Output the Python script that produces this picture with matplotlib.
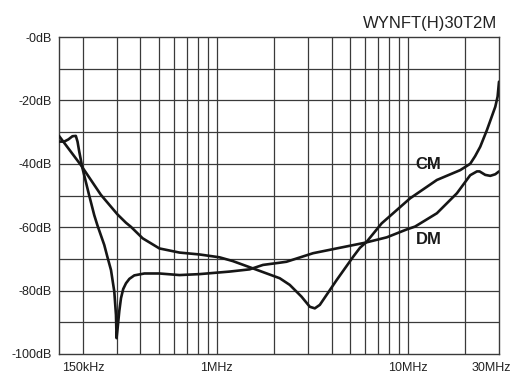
import matplotlib
matplotlib.use("Agg")
import matplotlib.pyplot as plt
import matplotlib.transforms as mtrans
import numpy as np

plt.rcParams['font.family'] = ['Liberation Sans', 'DejaVu Sans']

# ---- data (frequency in MHz, attenuation in dB) ----
dm_freq = [0.15, 0.1596, 0.168, 0.1764, 0.1837, 0.1875, 0.1912, 0.199, 0.2158,
           0.2293, 0.2385, 0.2587, 0.269, 0.2805, 0.2919, 0.2979, 0.300, 0.3037,
           0.3100, 0.3164, 0.325, 0.336, 0.350, 0.3715, 0.4193, 0.5025, 0.6397,
           0.8145, 1.17, 1.489, 1.749, 2.14, 2.321, 3.199, 4.244, 5.972, 7.761,
           9.88, 10.92, 14.2, 18.07, 21.21, 23.0, 23.74, 25.43, 27.01, 28.69, 30.0]
dm_db = [-33.0, -33.0, -32.3, -31.3, -31.2, -33.0, -36.0, -41.4, -50.0,
         -56.2, -59.5, -65.6, -69.5, -73.5, -80.3, -87.7, -95.0, -92.0,
         -86.5, -82.4, -79.5, -77.7, -76.3, -75.2, -74.6, -74.6, -75.1,
         -74.8, -74.0, -73.3, -71.9, -71.2, -70.9, -68.2, -66.7, -64.9, -63.2,
         -60.7, -59.8, -55.6, -49.3, -43.6, -42.4, -42.4, -43.5, -43.8, -43.3, -42.4]

cm_freq = [0.15, 0.1952, 0.2485, 0.3037, 0.336, 0.357, 0.4107, 0.5025, 0.6397,
           0.8145, 1.037, 1.218, 1.55, 2.14, 2.415, 2.781, 3.074, 3.265, 3.468,
           4.244, 5.185, 5.622, 6.095, 7.3, 10.28, 14.2, 18.8, 21.21, 22.5,
           23.94, 25.96, 28.69, 29.5, 30.0]
cm_db = [-31.2, -40.4, -49.8, -56.0, -58.6, -59.9, -63.5, -66.7, -68.0,
         -68.6, -69.5, -70.7, -73.0, -76.1, -78.2, -81.9, -85.1, -85.6, -84.5,
         -76.7, -69.3, -66.5, -64.6, -58.8, -50.9, -45.1, -42.0, -40.0, -37.6,
         -34.6, -29.3, -22.0, -18.8, -14.1]

y_ticks = [0, -20, -40, -60, -80, -100]
y_tick_labels = ['-0dB', '-20dB', '-40dB', '-60dB', '-80dB', '-100dB']
x_ticks = [0.2, 1.0, 10.0, 30.0]
x_tick_labels = ['150kHz', '1MHz', '10MHz', '30MHz']
x_grid = [0.2, 0.3, 0.4, 0.5, 0.6, 0.7, 0.8, 0.9, 1, 2, 3, 4, 5, 6, 7, 8, 9, 10, 20]
y_grid = [-10, -20, -30, -40, -50, -60, -70, -80, -90]

title = 'WYNFT(H)30T2M'

# ---- figure ----
fig = plt.figure(figsize=(5.26, 3.73), dpi=100)
ax = fig.add_axes([59/526, 1-354/373, (499-59)/526, (354-37)/373])

gcol = '#3a3a3a'
for x in x_grid:
    ax.axvline(x, color=gcol, lw=0.9, zorder=1)
for y in y_grid:
    ax.axhline(y, color=gcol, lw=0.9, zorder=1)

lc = '#161616'
ax.plot(dm_freq, dm_db, color=lc, lw=1.9, zorder=3, solid_joinstyle='round', solid_capstyle='round')
ax.plot(cm_freq, cm_db, color=lc, lw=1.9, zorder=3, solid_joinstyle='round', solid_capstyle='round')

ax.set_xscale('log')
ax.set_xlim(0.15, 30)
ax.set_ylim(-100, 0)
ax.set_xticks(x_ticks)
ax.set_xticklabels(x_tick_labels)
ax.xaxis.set_minor_locator(matplotlib.ticker.NullLocator())
ax.set_yticks(y_ticks)
ax.set_yticklabels(y_tick_labels)
ax.tick_params(axis='both', length=0, labelsize=9, colors='#222222')
ax.tick_params(axis='y', pad=5)
ax.tick_params(axis='x', pad=6)
for s in ax.spines.values():
    s.set_color(gcol)
    s.set_linewidth(1.0)

# shift the 30MHz label slightly left as in the reference
lab = ax.get_xticklabels()[-1]
lab.set_transform(lab.get_transform() + mtrans.ScaledTranslation(-0.08, 0, fig.dpi_scale_trans))

ax.text(12.8, -40.1, 'CM', fontsize=12, fontweight='bold', ha='center', va='center', color='#1a1a1a', zorder=4)
ax.text(12.9, -64.0, 'DM', fontsize=12, fontweight='bold', ha='center', va='center', color='#1a1a1a', zorder=4)

fig.text(497/526, 1-28.3/373, title, ha='right', va='baseline', fontsize=12, color='#222222')

fig.savefig('out.png', dpi=100)
